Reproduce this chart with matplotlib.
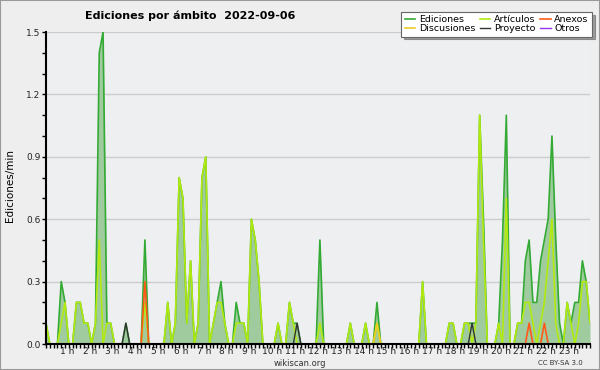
import numpy as np
import matplotlib
matplotlib.use('Agg')
from matplotlib import pyplot as plt
from matplotlib.patches import Rectangle
from matplotlib.ticker import MultipleLocator
from matplotlib.transforms import ScaledTranslation

matplotlib.rc('font', family='DejaVu Sans')

# edits per minute, one value per 10 minutes (6 per hour, 24 rows)
ediciones = [
    0.1, 0, 0, 0, 0.3, 0.2,
    0, 0, 0.2, 0.2, 0.1, 0.1,
    0, 0.1, 1.4, 1.5, 0.1, 0.1,
    0, 0, 0, 0.1, 0, 0,
    0, 0, 0.5, 0, 0, 0,
    0, 0, 0.2, 0, 0.1, 0.8,
    0.7, 0.1, 0.4, 0, 0.1, 0.8,
    0.9, 0, 0.1, 0.2, 0.3, 0.1,
    0, 0, 0.2, 0.1, 0.1, 0,
    0.6, 0.5, 0.3, 0, 0, 0,
    0, 0.1, 0, 0, 0.2, 0.1,
    0.1, 0, 0, 0, 0, 0,
    0.5, 0, 0, 0, 0, 0,
    0, 0, 0.1, 0, 0, 0,
    0.1, 0, 0, 0.2, 0, 0,
    0, 0, 0, 0, 0, 0,
    0, 0, 0, 0.3, 0, 0,
    0, 0, 0, 0, 0.1, 0.1,
    0, 0, 0.1, 0.1, 0.1, 0.1,
    1.1, 0.6, 0, 0, 0, 0.1,
    0.5, 1.1, 0, 0, 0.1, 0.1,
    0.4, 0.5, 0.2, 0.2, 0.4, 0.5,
    0.6, 1.0, 0.5, 0.1, 0, 0.2,
    0.1, 0.2, 0.2, 0.4, 0.3, 0.1,
]
articulos = [
    0.1, 0, 0, 0, 0.1, 0.2,
    0, 0, 0.2, 0.2, 0.1, 0.1,
    0, 0.1, 0.5, 0, 0.1, 0.1,
    0, 0, 0, 0, 0, 0,
    0, 0, 0.2, 0, 0, 0,
    0, 0, 0.2, 0, 0.1, 0.8,
    0.7, 0.1, 0.4, 0, 0.1, 0.8,
    0.9, 0, 0.1, 0.2, 0.2, 0.1,
    0, 0, 0.1, 0.1, 0.1, 0,
    0.6, 0.5, 0.3, 0, 0, 0,
    0, 0.1, 0, 0, 0.2, 0.1,
    0, 0, 0, 0, 0, 0,
    0.1, 0, 0, 0, 0, 0,
    0, 0, 0.1, 0, 0, 0,
    0.1, 0, 0, 0.1, 0, 0,
    0, 0, 0, 0, 0, 0,
    0, 0, 0, 0.3, 0, 0,
    0, 0, 0, 0, 0.1, 0.1,
    0, 0, 0.1, 0.1, 0, 0.1,
    1.1, 0.5, 0, 0, 0, 0.1,
    0, 0.7, 0, 0, 0.1, 0.1,
    0.2, 0.2, 0.1, 0, 0.1, 0.2,
    0.4, 0.6, 0.1, 0, 0, 0.2,
    0.1, 0, 0.1, 0.3, 0.3, 0.1,
]
anexos = [0] * 144
anexos[26] = 0.3
anexos[127] = 0.1
anexos[131] = 0.1
discusiones = [0] * 144
discusiones[87] = 0.1
proyecto = [0] * 144
proyecto[21] = 0.1
proyecto[66] = 0.1
proyecto[112] = 0.1
otros = [0] * 144

hours = list(range(1, 24))
hour_labels = [f"{h} h" for h in hours]

fig = plt.figure(figsize=(6, 3.7), dpi=100, facecolor='#eeeeee')
ax = fig.add_axes([46/600, 26/370, 544/600, 312/370])
ax.set_facecolor('#eeeff1')

x = np.arange(len(ediciones))
ax.fill_between(x, ediciones, color='#9fcb9f', lw=0, zorder=2)
h_ed, = ax.plot(x, ediciones, color='#33aa33', lw=1.2, zorder=3, label='Ediciones')
h_art, = ax.plot(x, articulos, color='#b2ea10', lw=1.2, zorder=4, label='Artículos')
h_disc, = ax.plot(x, discusiones, color='#eecc22', lw=1.2, zorder=5, label='Discusiones')
h_anex, = ax.plot(x, anexos, color='#ff5a1a', lw=1.2, zorder=5, label='Anexos')
h_proj, = ax.plot(x, proyecto, color='#333333', lw=1.0, zorder=6, label='Proyecto')
h_otros, = ax.plot(x, otros, color='#9933ee', lw=1.0, zorder=6, label='Otros')

ax.set_xlim(0, len(ediciones) - 1)
ax.set_ylim(0, 1.5)
ax.set_xticks([6 * h for h in hours])
ax.set_xticklabels(hour_labels)
ax.xaxis.set_minor_locator(MultipleLocator(1))
yt = np.arange(0, 1.51, 0.3)
ax.set_yticks(yt)
ax.set_yticklabels([f"{v:.1f}" for v in yt])
ax.yaxis.set_minor_locator(MultipleLocator(0.1))
ax.tick_params(which='both', direction='out', length=3, width=1, color='black',
               labelsize=6.5, pad=1, labelcolor='#222222')
ax.tick_params(axis='x', pad=-0.5)
shift = ScaledTranslation(-2/100, 0, fig.dpi_scale_trans)
for lab in ax.get_xticklabels():
    lab.set_transform(lab.get_transform() + shift)

ax.yaxis.grid(True, color='#cccccc', lw=1)
ax.set_axisbelow(True)
for s in ['top', 'right']:
    ax.spines[s].set_visible(False)
for s in ['left', 'bottom']:
    ax.spines[s].set_linewidth(1.5)
    ax.spines[s].set_zorder(10)

fig.text(190/600, 1 - 16/370, 'Ediciones por ámbito  2022-09-06', ha='center', va='center',
         fontsize=8, fontweight='bold')
fig.text(10/600, 1 - 185/370, 'Ediciones/min', rotation=90, ha='center', va='center', fontsize=7.5)
fig.text(300/600, 1 - 363/370, 'wikiscan.org', ha='center', va='center', fontsize=6, color='#333333')
fig.text(560/600, 1 - 363/370, 'CC BY-SA 3.0', ha='center', va='center', fontsize=5, color='#333333')

leg = fig.legend(handles=[h_ed, h_disc, h_art, h_proj, h_anex, h_otros], ncol=3,
                 loc='upper right', bbox_to_anchor=(592/600, 1 - 12/370), fontsize=6.8,
                 frameon=True, fancybox=False, shadow=True, handlelength=1.1,
                 handletextpad=0.4, columnspacing=0.5, labelspacing=0.0,
                 borderpad=0.35, borderaxespad=0)
leg.get_frame().set_edgecolor('#666666')
leg.get_frame().set_linewidth(0.8)

fig.patches.append(Rectangle((0, 0), 1, 1, transform=fig.transFigure, fill=False,
                             edgecolor='#999999', lw=1.5))

fig.savefig('out.png', dpi=100, facecolor=fig.get_facecolor())
